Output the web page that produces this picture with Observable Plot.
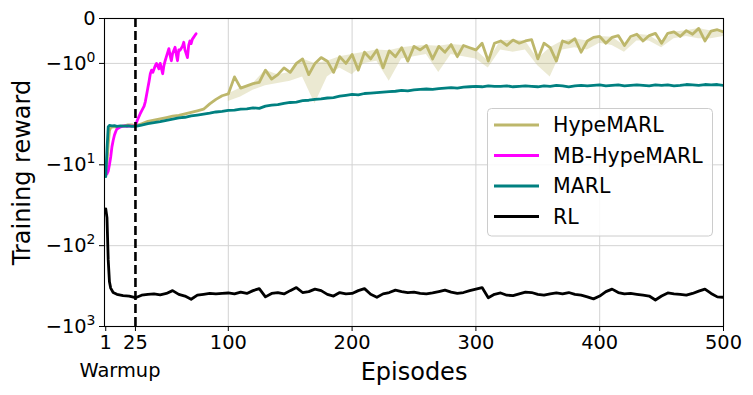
<!DOCTYPE html>
<html><head><meta charset="utf-8">
<script src="https://cdn.jsdelivr.net/npm/d3@7"></script>
<script src="https://cdn.jsdelivr.net/npm/@observablehq/plot@0.6"></script>
<style>body{margin:0;background:#fff}#chart{width:753px;height:395px}</style>
</head><body><div id="chart"></div>
<script>
const seriesNames = ["HypeMARL", "MB-HypeMARL", "MARL", "RL"];
const seriesColors = ["#bdb76b", "#ff00ff", "#008080", "#000000"];
const xTicks = [1, 25, 100, 200, 300, 400, 500];
const yTicks = [0, -1, -10, -100, -1000];
const yTickLabels = ["0", "−10⁰", "−10¹", "−10²", "−10³"];
const warmupEpisode = 25;

// episodes sampled every 5 from 25 to 500 (x positions only)
const gridEp = d3.range(25, 501, 5);

const hypeEarlyEp = [1, 2, 3, 4, 5, 7, 10, 13, 16, 19, 22];
const hypeEarlyVal = [-12.5, -9.5, -5.6, -3.8, -3.45, -3.4, -3.38, -3.35, -3.3, -3.2, -3.2];
const hypeVal = [
  -3.3, -3.1, -2.9, -2.8, -2.7, -2.6, -2.5, -2.45, -2.35, -2.25,
  -2.15, -2.05, -1.9, -1.8, -1.72, -1.68, -1.3, -1.55, -1.5, -1.45,
  -1.42, -1.15, -1.35, -1.25, -1.1, -1.2, -1.0, -0.9, -1.25, -1.0,
  -0.87, -0.95, -1.2, -0.85, -1.0, -0.8, -1.15, -0.75, -0.9, -0.7,
  -1.1, -0.72, -0.85, -0.65, -0.95, -0.62, -0.7, -0.6, -0.9, -0.62,
  -0.75, -0.58, -0.85, -0.6, -0.65, -0.7, -0.55, -0.95, -0.55, -0.5,
  -0.6, -0.48, -0.55, -0.5, -0.47, -0.9, -0.55, -0.65, -0.95, -0.5,
  -0.55, -0.45, -0.75, -0.5, -0.42, -0.4, -0.55, -0.42, -0.38, -0.6,
  -0.4, -0.35, -0.5, -0.38, -0.33, -0.55, -0.33, -0.3, -0.4, -0.27,
  -0.35, -0.22, -0.5, -0.28, -0.25, -0.3
];
// lower edge of the HypeMARL shaded band, every 10 episodes from 100 to 500
const hypeBandEp = d3.range(100, 501, 10);
const hypeBandLow = [
  -1.85, -1.75, -1.6, -1.5, -1.45, -1.4, -1.3, -1.9, -1.3, -1.1,
  -1.25, -1.0, -0.95, -1.4, -0.9, -0.85, -0.8, -1.2, -0.8, -0.85,
  -0.9, -1.1, -0.7, -0.75, -0.7, -1.05, -1.3, -0.7, -0.65, -0.7,
  -0.55, -0.6, -0.75, -0.5, -0.5, -0.65, -0.45, -0.4, -0.45, -0.45,
  -0.4
];

const mbEp = [2, 3, 4, 5, 6, 7, 8, 9, 10, 12, 14, 16, 18, 20, 22, 24, 25, 27, 29, 30, 32, 33, 34, 35, 36, 37, 38, 39, 41, 42, 44, 45, 47, 48, 49, 50, 52, 53, 54, 55, 57, 58, 59, 60, 61, 63, 64, 65, 67, 68, 69, 70, 71, 72, 73, 74];
const mbVal = [-13, -12, -10, -8, -6, -5, -4.3, -3.9, -3.6, -3.45, -3.35, -3.3, -3.35, -3.3, -3.32, -3.3, -3.25, -2.7, -2.3, -2.15, -1.95, -1.85, -1.7, -1.55, -1.4, -1.23, -1.15, -1.2, -1.05, -1.0, -1.12, -1.0, -1.23, -1.05, -0.94, -0.85, -0.67, -0.82, -0.94, -0.78, -0.64, -0.8, -0.94, -0.7, -0.71, -0.62, -0.53, -0.7, -0.87, -0.6, -0.5, -0.56, -0.46, -0.42, -0.38, -0.34];

const marlEarlyEp = [1, 2, 3, 4, 6, 8, 10, 13, 16, 19, 22];
const marlEarlyVal = [-14, -6.5, -3.4, -3.25, -3.3, -3.28, -3.35, -3.3, -3.32, -3.3, -3.35];
const marlVal = [
  -3.35, -3.22, -3.1, -3.0, -2.92, -2.82, -2.72, -2.62, -2.58, -2.48,
  -2.42, -2.36, -2.3, -2.22, -2.18, -2.12, -2.1, -2.05, -2.03, -1.99,
  -2.0, -1.95, -1.93, -1.92, -1.89, -1.87, -1.86, -1.83, -1.82, -1.8,
  -1.79, -1.77, -1.76, -1.73, -1.71, -1.69, -1.7, -1.67, -1.66, -1.65,
  -1.64, -1.63, -1.62, -1.6, -1.61, -1.59, -1.58, -1.57, -1.58, -1.56,
  -1.55, -1.54, -1.55, -1.53, -1.52, -1.51, -1.52, -1.5, -1.51, -1.51,
  -1.5, -1.52, -1.51, -1.5, -1.51, -1.52, -1.5, -1.51, -1.49, -1.5,
  -1.52, -1.5, -1.49, -1.5, -1.49, -1.48, -1.5, -1.49, -1.48, -1.5,
  -1.49, -1.48, -1.49, -1.5, -1.48, -1.49, -1.48, -1.5, -1.49, -1.47,
  -1.48, -1.49, -1.47, -1.48, -1.47, -1.49
];

const rlEarlyEp = [1, 2, 3, 4, 5, 7, 10, 15, 20];
const rlEarlyVal = [-35, -45, -150, -280, -335, -380, -400, -415, -420];
const rlVal = [
  -440, -410, -400, -395, -405, -390, -360, -400, -420, -460,
  -410, -400, -390, -395, -390, -385, -395, -375, -390, -360,
  -340, -430, -390, -380, -395, -360, -330, -380, -370, -345,
  -360, -400, -420, -380, -395, -390, -360, -340, -400, -435,
  -395, -380, -355, -370, -380, -375, -390, -395, -385, -370,
  -355, -375, -390, -380, -360, -345, -330, -440, -400, -385,
  -410, -415, -395, -375, -380, -400, -410, -395, -385, -395,
  -380, -400, -410, -430, -455, -420, -370, -345, -380, -395,
  -390, -400, -410, -420, -470, -420, -385, -395, -400, -410,
  -390, -365, -345, -390, -430, -435
];

// matplotlib-style symlog (linthresh 2, linscale 1, base 10)
const LINTHRESH = 2, LINSCALE = 1 / (1 - 1 / 10);
function sym(v) {
  const a = Math.abs(v);
  const u = a <= LINTHRESH ? a * LINSCALE : LINTHRESH * (LINSCALE + Math.log10(a / LINTHRESH));
  return Math.sign(v) * u;
}

const rows = [];
function add(name, eps, vals) { eps.forEach((e, i) => rows.push({series: name, ep: e, v: vals[i]})); }
add("HypeMARL", hypeEarlyEp.concat(gridEp), hypeEarlyVal.concat(hypeVal));
add("MB-HypeMARL", mbEp, mbVal);
add("MARL", marlEarlyEp.concat(gridEp), marlEarlyVal.concat(marlVal));
add("RL", rlEarlyEp.concat(gridEp), rlEarlyVal.concat(rlVal));

const band = hypeBandEp.map((e, i) => ({ep: e, lo: hypeBandLow[i], hi: hypeVal[gridEp.indexOf(e)]}));

const labelOf = new Map(yTicks.map((t, i) => [sym(t), yTickLabels[i]]));
const FONT = "DejaVu Sans";

const plot = Plot.plot({
  width: 753, height: 395,
  marginLeft: 104, marginRight: 30, marginTop: 18, marginBottom: 69,
  style: {fontFamily: FONT, fontSize: "19.4px", background: "white", color: "black", overflow: "visible"},
  x: {domain: [0, 500], label: null},
  y: {domain: [sym(-1000), sym(0)], label: null},
  color: {domain: seriesNames, range: seriesColors},
  marks: [
    Plot.gridX(xTicks.filter(t => t >= 100 && t < 500), {stroke: "#d3d3d3", strokeOpacity: 1, strokeWidth: 1}),
    Plot.gridY(yTicks.slice(1, 4).map(sym), {stroke: "#d3d3d3", strokeOpacity: 1, strokeWidth: 1}),
    Plot.areaY(band, {x: "ep", y1: d => sym(d.lo), y2: d => sym(d.hi), fill: seriesColors[0], fillOpacity: 0.3, curve: "linear"}),
    Plot.line(rows, {x: "ep", y: d => sym(d.v), z: "series", stroke: "series", strokeWidth: 2.8, strokeLinejoin: "round", clip: true}),
    Plot.ruleX([warmupEpisode], {stroke: "black", strokeWidth: 2.6, strokeDasharray: "9,4"}),
    Plot.axisX({ticks: xTicks, tickSize: 5, tickPadding: 4, label: null, stroke: "black", strokeOpacity: 1}),
    Plot.axisY({ticks: yTicks.map(sym), tickFormat: t => labelOf.get(t), tickSize: 5, tickPadding: 4, label: null, stroke: "black", strokeOpacity: 1}),
    Plot.frame({stroke: "black", strokeWidth: 1.1}),
    Plot.text(["Episodes"], {frameAnchor: "bottom", dy: 46, lineAnchor: "middle", fontSize: 24}),
    Plot.text(["Warmup"], {x: () => warmupEpisode / 2, frameAnchor: "bottom", dy: 44, lineAnchor: "middle", fontSize: 19.4}),
    Plot.text(["Training reward"], {frameAnchor: "left", dx: -82, rotate: -90, lineAnchor: "middle", textAnchor: "middle", fontSize: 24})
  ]
});

const svg = d3.select(plot);

// render exponents as raised smaller digits, like matplotlib mathtext
const supMap = {"⁰": "0", "¹": "1", "²": "2", "³": "3"};
svg.selectAll("text").each(function () {
  const t = this.textContent;
  const m = /^−10([⁰¹²³])$/.exec(t);
  if (m) {
    const el = d3.select(this);
    el.text("−10");
    el.append("tspan").attr("font-size", "0.72em").attr("dy", "-0.55em").text(supMap[m[1]]);
  }
});

// legend (matplotlib-style box in upper right of the plot area)
const lg = svg.append("g").attr("font-family", FONT).attr("font-size", 20.5).attr("text-anchor", "start");
lg.append("rect").attr("x", 487.5).attr("y", 108.5).attr("width", 225).attr("height", 127.5)
  .attr("rx", 4).attr("fill", "white").attr("fill-opacity", 0.85).attr("stroke", "#cccccc");
seriesNames.forEach((name, i) => {
  const y = 125 + i * 30.5;
  lg.append("line").attr("x1", 494).attr("x2", 539).attr("y1", y).attr("y2", y)
    .attr("stroke", seriesColors[i]).attr("stroke-width", 3);
  lg.append("text").attr("x", 553).attr("y", y).attr("dy", "0.35em").attr("fill", "black")
    .attr("text-anchor", "start").text(name);
});

document.getElementById("chart").appendChild(plot);
</script>
</body></html>
